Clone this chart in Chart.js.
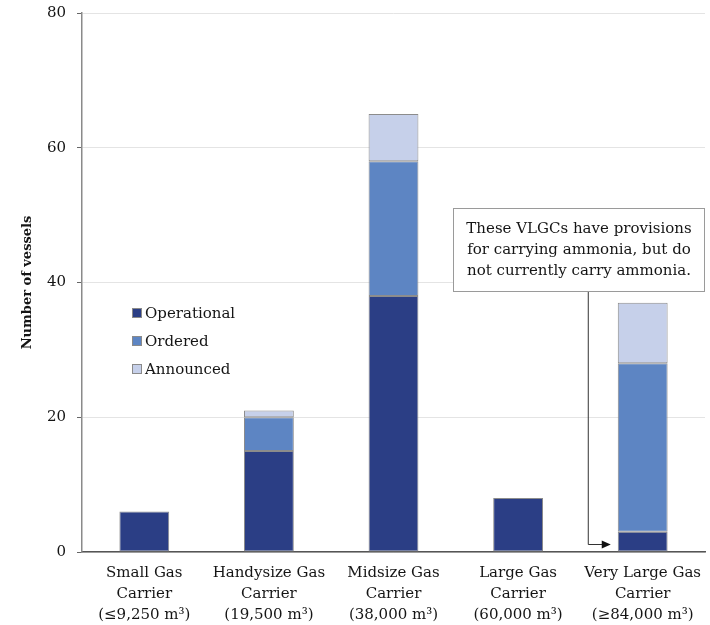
<!DOCTYPE html>
<html>
<head>
<meta charset="utf-8">
<script src="https://cdn.jsdelivr.net/npm/chart.js@4/dist/chart.umd.min.js"></script>
<style>
  html, body { margin: 0; padding: 0; background: #ffffff; }
  #wrap { width: 710px; height: 625px; position: relative; }
</style>
</head>
<body>
<div id="wrap"><canvas id="chart" width="710" height="625"></canvas></div>
<script>
// Ammonia-capable gas carriers by size class
const categories = [
  ['Small Gas', 'Carrier', '(≤9,250 m³)'],
  ['Handysize Gas', 'Carrier', '(19,500 m³)'],
  ['Midsize Gas', 'Carrier', '(38,000 m³)'],
  ['Large Gas', 'Carrier', '(60,000 m³)'],
  ['Very Large Gas', 'Carrier', '(≥84,000 m³)']
];
const operational = [6, 15, 38, 8, 3];
const ordered     = [0, 5, 20, 0, 25];
const announced   = [0, 1, 7, 0, 9];
const seriesNames = ['Operational', 'Ordered', 'Announced'];
const yTicks = [0, 20, 40, 60, 80];
const noteLines = [
  'These VLGCs have provisions',
  'for carrying ammonia, but do',
  'not currently carry ammonia.'
];

const FONT = '"DejaVu Serif", "Liberation Serif", serif';
const colors = ['#2b3e85', '#5d85c3', '#c6d0ea'];
const TEXT = '#151515';

// Legend drawn inside the plot area, stacked vertically
const innerLegend = {
  id: 'innerLegend',
  afterDraw(chart) {
    const { ctx, chartArea } = chart;
    const x0 = chartArea.left + 50;
    const y0 = chartArea.top + 300;
    ctx.save();
    ctx.font = '15px ' + FONT;
    ctx.textBaseline = 'middle';
    ctx.textAlign = 'left';
    chart.data.datasets.forEach((ds, i) => {
      const cy = y0 + i * 28;
      ctx.fillStyle = ds.backgroundColor;
      ctx.fillRect(x0, cy - 5, 10, 10);
      ctx.strokeStyle = '#8a8a8a';
      ctx.lineWidth = 1;
      ctx.strokeRect(x0 + 0.5, cy - 4.5, 9, 9);
      ctx.fillStyle = TEXT;
      ctx.fillText(ds.label, x0 + 13, cy + 1);
    });
    ctx.restore();
  }
};

// Callout box with an elbow arrow pointing at the VLGC operational segment
const callout = {
  id: 'callout',
  afterDraw(chart) {
    const { ctx, chartArea } = chart;
    const bar = chart.getDatasetMeta(0).data[4];
    const right = chartArea.right;
    const left = right - 252;
    const top = chartArea.top + 195;
    const bottom = top + 84;
    ctx.save();
    ctx.fillStyle = '#ffffff';
    ctx.fillRect(left, top, right - left, bottom - top);
    ctx.strokeStyle = '#9a9a9a';
    ctx.lineWidth = 1;
    ctx.strokeRect(left + 0.5, top + 0.5, right - left - 1, bottom - top - 1);
    ctx.fillStyle = TEXT;
    ctx.font = '15px ' + FONT;
    ctx.textAlign = 'center';
    ctx.textBaseline = 'middle';
    const cx = (left + right) / 2;
    noteLines.forEach((t, i) => ctx.fillText(t, cx, top + 21 + i * 21));

    // elbow connector
    const barLeft = bar.x - bar.width / 2;
    const vx = barLeft - 30;
    const hy = chartArea.bottom - 8;
    const tip = barLeft - 7;
    ctx.strokeStyle = '#333333';
    ctx.lineWidth = 1;
    ctx.beginPath();
    ctx.moveTo(vx + 0.5, bottom);
    ctx.lineTo(vx + 0.5, hy + 0.5);
    ctx.lineTo(tip - 8, hy + 0.5);
    ctx.stroke();
    ctx.fillStyle = '#111111';
    ctx.beginPath();
    ctx.moveTo(tip, hy + 0.5);
    ctx.lineTo(tip - 9, hy - 3.5);
    ctx.lineTo(tip - 9, hy + 4.5);
    ctx.closePath();
    ctx.fill();
    ctx.restore();
  }
};

const seriesData = [operational, ordered, announced];

new Chart(document.getElementById('chart'), {
  type: 'bar',
  data: {
    labels: categories,
    datasets: seriesNames.map((name, i) => ({
      label: name,
      data: seriesData[i],
      backgroundColor: colors[i],
      borderColor: '#8c8c8c',
      borderWidth: 1,
      borderSkipped: false,
      categoryPercentage: 1,
      barPercentage: 0.4
    }))
  },
  options: {
    responsive: false,
    devicePixelRatio: 1,
    animation: false,
    layout: { padding: { top: 13, right: 5, left: 0, bottom: 0 } },
    plugins: {
      legend: { display: false },
      tooltip: { enabled: false }
    },
    scales: {
      x: {
        stacked: true,
        grid: { display: false, drawTicks: false },
        border: { display: true, color: '#555555', width: 1.5 },
        ticks: {
          color: TEXT,
          font: { family: FONT, size: 15, lineHeight: 1.4 },
          padding: 11,
          maxRotation: 0,
          autoSkip: false
        },
        afterFit(scale) {
          scale.height = 73;
          scale.paddingLeft = 0;
          scale.paddingRight = 0;
        }
      },
      y: {
        stacked: true,
        min: 0,
        max: 80,
        afterBuildTicks(scale) { scale.ticks = yTicks.map(v => ({ value: v })); },
        grid: { color: '#e4e4e4', tickColor: '#666666', tickLength: 5, lineWidth: 1 },
        border: { display: true, color: '#8a8a8a', width: 1.5 },
        ticks: {
          color: TEXT,
          font: { family: FONT, size: 15 },
          padding: 11
        },
        title: {
          display: true,
          text: 'Number of vessels',
          color: TEXT,
          font: { family: FONT, size: 13, weight: 'bold' },
          padding: { top: 20, bottom: 0 }
        },
        afterFit(scale) {
          scale.width = 82;
          scale.paddingTop = 0;
          scale.paddingBottom = 0;
        }
      }
    }
  },
  plugins: [innerLegend, callout]
});
</script>
</body>
</html>
